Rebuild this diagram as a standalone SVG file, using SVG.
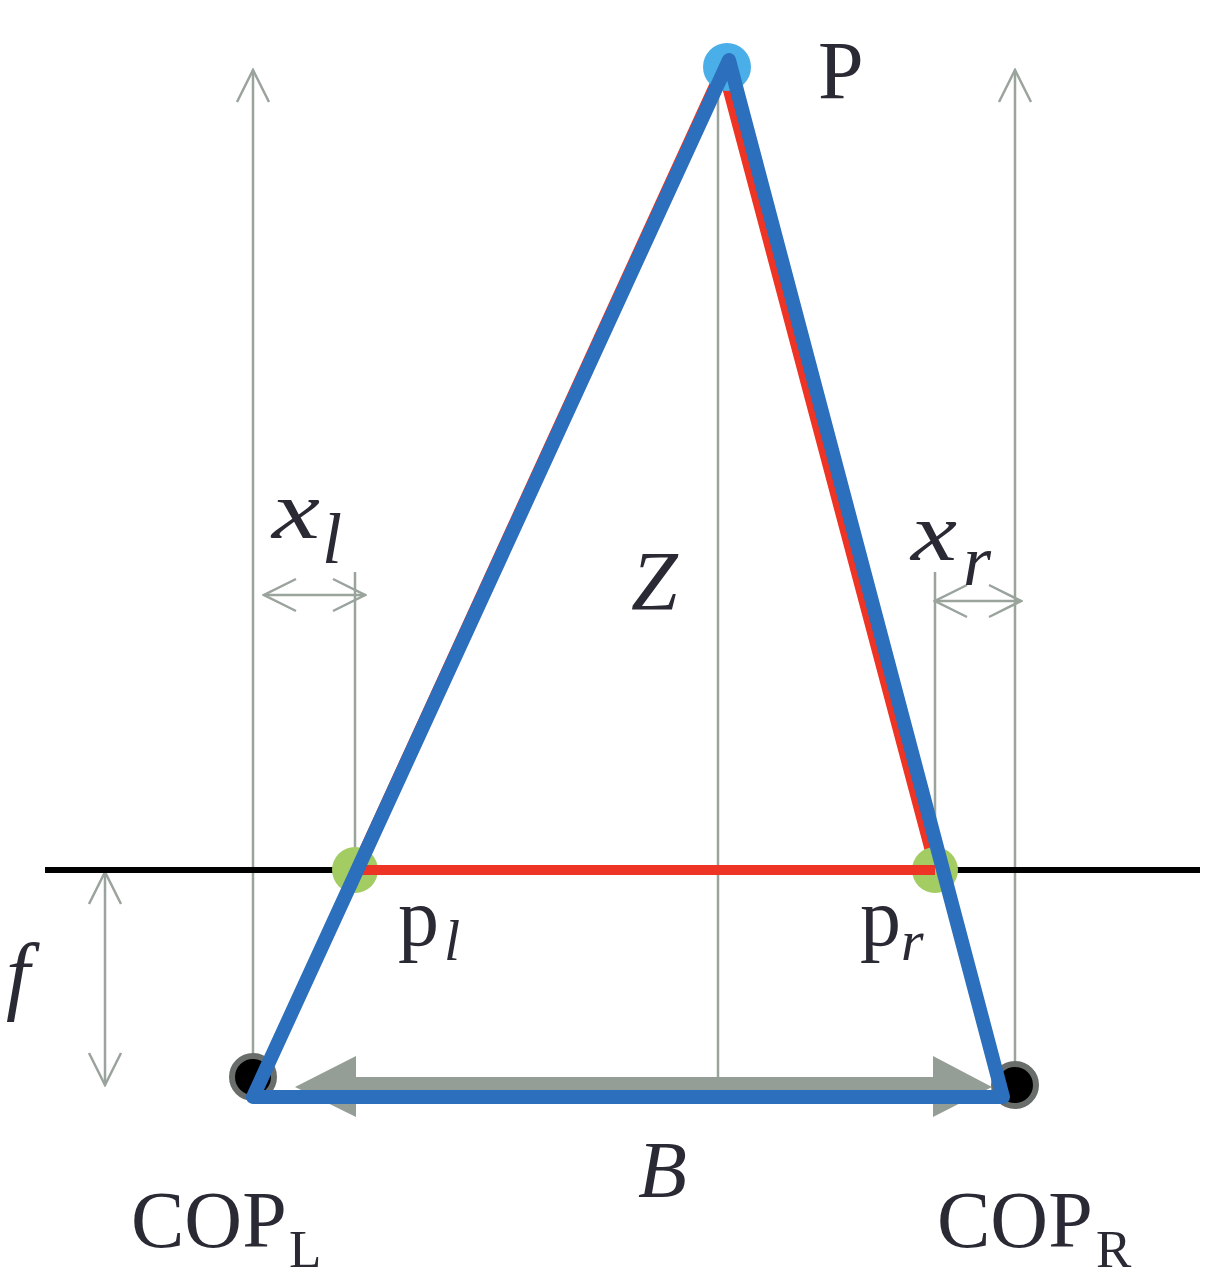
<svg xmlns="http://www.w3.org/2000/svg" width="1230" height="1284" viewBox="0 0 1230 1284">
<style>
.g{stroke:#9aa49c;stroke-width:2.5;fill:none}
.t{font-family:"Liberation Serif","Times New Roman",Times,serif;fill:#2a2a35}
.i{font-style:italic}
</style>
<defs>
<marker id="openL" viewBox="0 0 40 40" refX="38" refY="20" markerWidth="40" markerHeight="40" markerUnits="userSpaceOnUse" orient="auto-start-reverse">
<path d="M6,4 L38,20 L6,36" fill="none" stroke="#9aa49c" stroke-width="2.5"/>
</marker>
</defs>
<rect width="1230" height="1284" fill="#fff"/>
<g id="connectors">
<line class="g" x1="253" y1="1070" x2="253" y2="70" marker-end="url(#openL)"/>
<line class="g" x1="1015" y1="1070" x2="1015" y2="70" marker-end="url(#openL)"/>
<line class="g" x1="718" y1="80" x2="718" y2="1078"/>
<line class="g" x1="355" y1="572" x2="355" y2="870"/>
<line class="g" x1="935" y1="572" x2="935" y2="870"/>
<line class="g" x1="264" y1="595" x2="365" y2="595" marker-start="url(#openL)" marker-end="url(#openL)"/>
<line class="g" x1="935" y1="601" x2="1021" y2="601" marker-start="url(#openL)" marker-end="url(#openL)"/>
<line class="g" x1="105" y1="872" x2="105" y2="1085" marker-start="url(#openL)" marker-end="url(#openL)"/>
<line x1="45" y1="870" x2="1200" y2="870" stroke="#000" stroke-width="6"/>
<path id="baseline-arrow" d="M295,1087 L356,1056 L356,1077 L933,1077 L933,1056 L992,1087 L933,1117 L933,1097 L356,1097 L356,1117 Z" fill="#959e96"/>
<path d="M722,68 L355,870 L935,870 Z" fill="none" stroke="#ee3424" stroke-width="10" stroke-linejoin="round"/>
</g>
<g id="pl"><circle cx="355" cy="870" r="23" fill="#a3cc62"/></g>
<g id="pr"><circle cx="935" cy="870" r="23" fill="#a3cc62"/></g>
<g id="red-top"><line x1="355" y1="870" x2="935" y2="870" stroke="#ee3424" stroke-width="10"/></g>
<g id="P"><circle cx="727" cy="67" r="24" fill="#4aaee8"/></g>
<g id="copl"><circle cx="253" cy="1077" r="21" fill="#000" stroke="#6a6e6a" stroke-width="6"/></g>
<g id="copr"><circle cx="1015" cy="1085" r="21" fill="#000" stroke="#6a6e6a" stroke-width="6"/></g>
<g id="triangle"><path d="M729,60 L253,1097 L1003,1097 Z" fill="none" stroke="#2b6fbd" stroke-width="14" stroke-linejoin="round"/></g>
<g id="labels">
<text class="t" x="818" y="98" font-size="82">P</text>
<text class="t i" x="272" y="538" font-size="82" textLength="48" lengthAdjust="spacingAndGlyphs">x</text>
<text class="t i" x="322" y="563" font-size="72">l</text>
<text class="t i" x="911" y="560" font-size="82" textLength="46" lengthAdjust="spacingAndGlyphs">x</text>
<text class="t i" x="963" y="585" font-size="72">r</text>
<text class="t i" x="631" y="610" font-size="84">Z</text>
<text class="t" x="398" y="945" font-size="82">p</text>
<text class="t i" x="444" y="960" font-size="58">l</text>
<text class="t" x="860" y="945" font-size="82">p</text>
<text class="t i" x="901" y="960" font-size="58">r</text>
<text class="t i" x="6" y="1003" font-size="86">f</text>
<text class="t i" x="638" y="1197" font-size="80">B</text>
<text class="t" x="131" y="1247" font-size="80">COP</text>
<text class="t" x="289" y="1267" font-size="53">L</text>
<text class="t" x="937" y="1247" font-size="80">COP</text>
<text class="t" x="1096" y="1267" font-size="53">R</text>
</g>
</svg>
